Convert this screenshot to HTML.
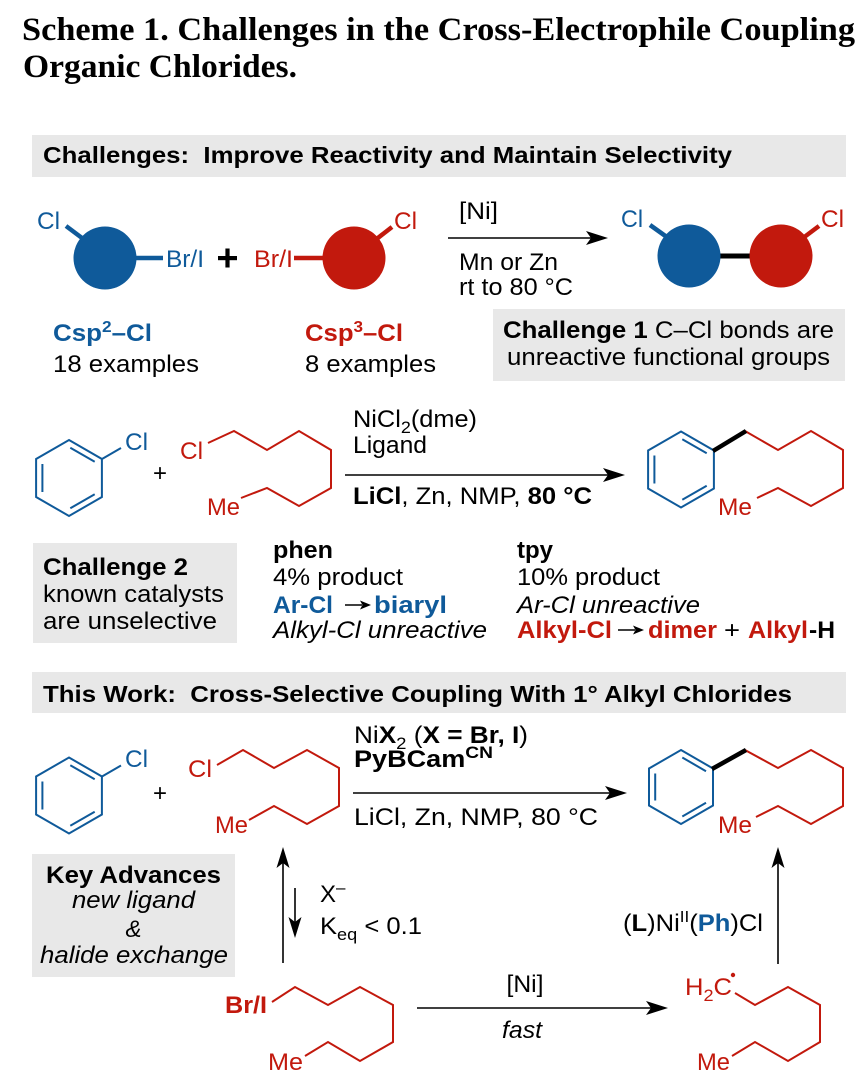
<!DOCTYPE html>
<html>
<head>
<meta charset="utf-8">
<style>
html,body{margin:0;padding:0;background:#fff;}
svg{display:block;}
</style>
</head>
<body>
<svg width="859" height="1088" viewBox="0 0 859 1088" xmlns="http://www.w3.org/2000/svg" font-family="'Liberation Sans', Arial, Helvetica, sans-serif" font-size="24">
<!-- Title -->
<g font-family="'Liberation Serif', 'Times New Roman', serif" font-weight="bold" font-size="33" fill="#000">
<text x="22" y="40" textLength="833" lengthAdjust="spacingAndGlyphs">Scheme 1. Challenges in the Cross-Electrophile Coupling</text>
<text x="23" y="77" textLength="274" lengthAdjust="spacingAndGlyphs">Organic Chlorides.</text>
</g>

<!-- Gray boxes -->
<g fill="#e8e8e8">
<rect x="32" y="135" width="814" height="42"/>
<rect x="493" y="309" width="352" height="72"/>
<rect x="33" y="543" width="204" height="100"/>
<rect x="32" y="672" width="814" height="41"/>
<rect x="32" y="854" width="203" height="123"/>
</g>

<!-- Headers -->
<text x="43" y="163" font-weight="bold" font-size="23" textLength="689" lengthAdjust="spacingAndGlyphs">Challenges:&#160; Improve Reactivity and Maintain Selectivity</text>
<text x="43" y="702" font-weight="bold" font-size="23" textLength="749" lengthAdjust="spacingAndGlyphs">This Work:&#160; Cross-Selective Coupling With 1° Alkyl Chlorides</text>

<!-- ===== Section 1 ===== -->
<g stroke-width="4.5" stroke-linecap="butt">
<line x1="66" y1="226" x2="86" y2="241" stroke="#0f5a9a"/>
<line x1="130" y1="258" x2="163" y2="258" stroke="#0f5a9a"/>
<line x1="294" y1="258" x2="330" y2="258" stroke="#c2190d"/>
<line x1="374" y1="241" x2="392" y2="227" stroke="#c2190d"/>
<line x1="650" y1="225" x2="671" y2="240" stroke="#0f5a9a"/>
<line x1="712" y1="256" x2="758" y2="256" stroke="#000" stroke-width="5"/>
<line x1="799" y1="241" x2="819" y2="226" stroke="#c2190d"/>
</g>
<circle cx="105" cy="258" r="31.5" fill="#0f5a9a"/>
<circle cx="354" cy="258" r="31.5" fill="#c2190d"/>
<circle cx="689" cy="256" r="31.5" fill="#0f5a9a"/>
<circle cx="781" cy="256" r="31.5" fill="#c2190d"/>
<!-- bold plus -->
<rect x="218" y="256" width="19" height="4.2" fill="#000"/>
<rect x="225.4" y="248.5" width="4.2" height="19" fill="#000"/>

<text x="37" y="229" fill="#0f5a9a" textLength="23" lengthAdjust="spacingAndGlyphs">Cl</text>
<text x="166" y="267" fill="#0f5a9a" textLength="38" lengthAdjust="spacingAndGlyphs">Br/I</text>
<text x="254" y="267" fill="#c2190d" textLength="39" lengthAdjust="spacingAndGlyphs">Br/I</text>
<text x="394" y="229" fill="#c2190d" textLength="23" lengthAdjust="spacingAndGlyphs">Cl</text>
<text x="621" y="227" fill="#0f5a9a" textLength="22" lengthAdjust="spacingAndGlyphs">Cl</text>
<text x="821" y="227" fill="#c2190d" textLength="23" lengthAdjust="spacingAndGlyphs">Cl</text>

<text x="53" y="341" fill="#0f5a9a" font-weight="bold" textLength="99" lengthAdjust="spacingAndGlyphs">Csp<tspan dy="-9" font-size="16">2</tspan><tspan dy="9">–Cl</tspan></text>
<text x="53" y="372" textLength="146" lengthAdjust="spacingAndGlyphs">18 examples</text>
<text x="305" y="341" fill="#c2190d" font-weight="bold" textLength="98" lengthAdjust="spacingAndGlyphs">Csp<tspan dy="-9" font-size="16">3</tspan><tspan dy="9">–Cl</tspan></text>
<text x="305" y="372" textLength="131" lengthAdjust="spacingAndGlyphs">8 examples</text>

<text x="459" y="219" textLength="39" lengthAdjust="spacingAndGlyphs">[Ni]</text>
<line x1="448" y1="238" x2="592" y2="238" stroke="#000" stroke-width="1.6"/>
<polygon points="608,238 586,231 591,238 586,245" fill="#000"/>
<text x="459" y="270" textLength="99" lengthAdjust="spacingAndGlyphs">Mn or Zn</text>
<text x="459" y="295" textLength="114" lengthAdjust="spacingAndGlyphs">rt to 80 °C</text>

<text x="503" y="338" textLength="331" lengthAdjust="spacingAndGlyphs"><tspan font-weight="bold">Challenge 1</tspan> C–Cl bonds are</text>
<text x="507" y="365" textLength="323" lengthAdjust="spacingAndGlyphs">unreactive functional groups</text>

<!-- ===== Section 2 ===== -->
<g fill="none" stroke="#0f5a9a" stroke-width="2">
<g transform="translate(69,478)">
<polygon points="0,-38 32.9,-19 32.9,19 0,38 -32.9,19 -32.9,-19"/>
<line x1="-26.6" y1="-14" x2="-26.6" y2="14"/>
<line x1="1.3" y1="-30.3" x2="25.7" y2="-16.3"/>
<line x1="25.7" y1="16.3" x2="1.3" y2="30.3"/>
</g>
<line x1="102" y1="459" x2="121" y2="448"/>
<g transform="translate(681,469.5)">
<polygon points="0,-38 32.9,-19 32.9,19 0,38 -32.9,19 -32.9,-19"/>
<line x1="-26.6" y1="-14" x2="-26.6" y2="14"/>
<line x1="1.3" y1="-30.3" x2="25.7" y2="-16.3"/>
<line x1="25.7" y1="16.3" x2="1.3" y2="30.3"/>
</g>
</g>
<g fill="none" stroke="#c2190d" stroke-width="2" stroke-linejoin="miter">
<polyline points="208,443 234,431 267,450 299,431 331,450 331,488 299,506 267,488 241,498"/>
<polyline points="745,431 778,450 811,431 843,450 843,488 811,506 778,488 757,498"/>
</g>
<line x1="713" y1="451" x2="746" y2="431" stroke="#000" stroke-width="4.5"/>

<text x="125" y="450" fill="#0f5a9a" textLength="23" lengthAdjust="spacingAndGlyphs">Cl</text>
<text x="153" y="481" textLength="14" lengthAdjust="spacingAndGlyphs">+</text>
<text x="180" y="459" fill="#c2190d" textLength="23" lengthAdjust="spacingAndGlyphs">Cl</text>
<text x="207" y="515" fill="#c2190d" textLength="33" lengthAdjust="spacingAndGlyphs">Me</text>
<text x="718" y="515" fill="#c2190d" textLength="34" lengthAdjust="spacingAndGlyphs">Me</text>

<text x="353" y="427" textLength="124" lengthAdjust="spacingAndGlyphs">NiCl<tspan dy="6" font-size="17">2</tspan><tspan dy="-6">(dme)</tspan></text>
<text x="353" y="453" textLength="74" lengthAdjust="spacingAndGlyphs">Ligand</text>
<line x1="345" y1="475" x2="609" y2="475" stroke="#000" stroke-width="1.6"/>
<polygon points="625,475 603,468 608,475 603,482" fill="#000"/>
<text x="353" y="504" textLength="239" lengthAdjust="spacingAndGlyphs"><tspan font-weight="bold">LiCl</tspan>, Zn, NMP, <tspan font-weight="bold">80 °C</tspan></text>

<text x="43" y="575" font-weight="bold" textLength="145" lengthAdjust="spacingAndGlyphs">Challenge 2</text>
<text x="43" y="602" textLength="181" lengthAdjust="spacingAndGlyphs">known catalysts</text>
<text x="43" y="629" textLength="174" lengthAdjust="spacingAndGlyphs">are unselective</text>

<text x="273" y="558" font-weight="bold" textLength="60" lengthAdjust="spacingAndGlyphs">phen</text>
<text x="273" y="585" textLength="130" lengthAdjust="spacingAndGlyphs">4% product</text>
<text x="273" y="613" fill="#0f5a9a" font-weight="bold" textLength="60" lengthAdjust="spacingAndGlyphs">Ar-Cl</text>
<line x1="345" y1="605" x2="362" y2="605" stroke="#000" stroke-width="1.6"/>
<polygon points="371,605 360,600.5 362.5,605 360,609.5" fill="#000"/>
<text x="374" y="613" fill="#0f5a9a" font-weight="bold" textLength="73" lengthAdjust="spacingAndGlyphs">biaryl</text>
<text x="273" y="638" font-style="italic" textLength="214" lengthAdjust="spacingAndGlyphs">Alkyl-Cl unreactive</text>

<text x="517" y="558" font-weight="bold" textLength="36" lengthAdjust="spacingAndGlyphs">tpy</text>
<text x="517" y="585" textLength="143" lengthAdjust="spacingAndGlyphs">10% product</text>
<text x="517" y="613" font-style="italic" textLength="183" lengthAdjust="spacingAndGlyphs">Ar-Cl unreactive</text>
<text x="517" y="638" fill="#c2190d" font-weight="bold" textLength="95" lengthAdjust="spacingAndGlyphs">Alkyl-Cl</text>
<line x1="618" y1="630" x2="635" y2="630" stroke="#000" stroke-width="1.6"/>
<polygon points="644,630 633,625.5 635.5,630 633,634.5" fill="#000"/>
<text x="648" y="638" fill="#c2190d" font-weight="bold" textLength="69" lengthAdjust="spacingAndGlyphs">dimer</text>
<text x="724" y="638" textLength="16" lengthAdjust="spacingAndGlyphs">+</text>
<text x="748" y="638" fill="#c2190d" font-weight="bold" textLength="60" lengthAdjust="spacingAndGlyphs">Alkyl</text>
<text x="809" y="638" font-weight="bold" textLength="26" lengthAdjust="spacingAndGlyphs">-H</text>

<!-- ===== Section 3 ===== -->
<g fill="none" stroke="#0f5a9a" stroke-width="2">
<g transform="translate(69,795.5)">
<polygon points="0,-38 32.9,-19 32.9,19 0,38 -32.9,19 -32.9,-19"/>
<line x1="-26.6" y1="-14" x2="-26.6" y2="14"/>
<line x1="1.3" y1="-30.3" x2="25.7" y2="-16.3"/>
<line x1="25.7" y1="16.3" x2="1.3" y2="30.3"/>
</g>
<line x1="102" y1="776.5" x2="121" y2="765.5"/>
<g transform="translate(681,787)">
<polygon points="0,-37 32,-18.5 32,18.5 0,37 -32,18.5 -32,-18.5"/>
<line x1="-25.8" y1="-13.5" x2="-25.8" y2="13.5"/>
<line x1="1.3" y1="-29.5" x2="25" y2="-15.8"/>
<line x1="25" y1="15.8" x2="1.3" y2="29.5"/>
</g>
</g>
<g fill="none" stroke="#c2190d" stroke-width="2">
<polyline points="217,765 243,750 274,768 307,750 339,768 339,806 307,824 274,806 249,820"/>
<polyline points="745,750 778,768 811,750 843,768 843,806 811,824 778,806 756,817"/>
</g>
<line x1="712" y1="769" x2="746" y2="750" stroke="#000" stroke-width="4.5"/>

<text x="125" y="767" fill="#0f5a9a" textLength="23" lengthAdjust="spacingAndGlyphs">Cl</text>
<text x="153" y="801" textLength="14" lengthAdjust="spacingAndGlyphs">+</text>
<text x="188" y="777" fill="#c2190d" textLength="24" lengthAdjust="spacingAndGlyphs">Cl</text>
<text x="215" y="833" fill="#c2190d" textLength="33" lengthAdjust="spacingAndGlyphs">Me</text>
<text x="718" y="833" fill="#c2190d" textLength="34" lengthAdjust="spacingAndGlyphs">Me</text>

<text x="354" y="743" textLength="174" lengthAdjust="spacingAndGlyphs">Ni<tspan font-weight="bold">X</tspan><tspan dy="6" font-size="17">2</tspan><tspan dy="-6"> (</tspan><tspan font-weight="bold">X = Br, I</tspan>)</text>
<text x="354" y="767" font-weight="bold" textLength="139" lengthAdjust="spacingAndGlyphs">PyBCam<tspan dy="-9" font-size="17">CN</tspan></text>
<line x1="353" y1="793" x2="611" y2="793" stroke="#000" stroke-width="1.6"/>
<polygon points="627,793 605,786 610,793 605,800" fill="#000"/>
<text x="354" y="825" textLength="244" lengthAdjust="spacingAndGlyphs">LiCl, Zn, NMP, 80 °C</text>

<!-- ===== Bottom ===== -->
<text x="133.5" y="883" text-anchor="middle" font-weight="bold" textLength="175" lengthAdjust="spacingAndGlyphs">Key Advances</text>
<text x="133.5" y="908" text-anchor="middle" font-style="italic" textLength="123" lengthAdjust="spacingAndGlyphs">new ligand</text>
<text x="133.5" y="937" text-anchor="middle" font-style="italic">&amp;</text>
<text x="134" y="963" text-anchor="middle" font-style="italic" textLength="188" lengthAdjust="spacingAndGlyphs">halide exchange</text>

<!-- left equilibrium arrows -->
<line x1="283" y1="963" x2="283" y2="862" stroke="#000" stroke-width="1.6"/>
<polygon points="283,847 276.5,868 283,863 289.5,868" fill="#000"/>
<line x1="295" y1="888" x2="295" y2="923" stroke="#000" stroke-width="1.6"/>
<polygon points="295,938 288.5,917 295,922 301.5,917" fill="#000"/>
<text x="320" y="902">X<tspan dy="-9" font-size="17">–</tspan></text>
<text x="320" y="934" textLength="102" lengthAdjust="spacingAndGlyphs">K<tspan dy="6" font-size="17">eq</tspan><tspan dy="-6"> &lt; 0.1</tspan></text>

<!-- bottom chains -->
<g fill="none" stroke="#c2190d" stroke-width="2">
<polyline points="272,1002 295,987 328,1005 360,987 393,1005 393,1042 360,1061 328,1042 305,1056"/>
<polyline points="735,993 755,1005 788,987 820,1005 820,1042 788,1061 755,1042 732,1056"/>
</g>
<text x="225" y="1013" fill="#c2190d" font-weight="bold" textLength="42" lengthAdjust="spacingAndGlyphs">Br/I</text>
<text x="268" y="1070" fill="#c2190d" textLength="35" lengthAdjust="spacingAndGlyphs">Me</text>

<line x1="417" y1="1008" x2="652" y2="1008" stroke="#000" stroke-width="1.6"/>
<polygon points="668,1008 646,1001 651,1008 646,1015" fill="#000"/>
<text x="525" y="992" text-anchor="middle" textLength="37" lengthAdjust="spacingAndGlyphs">[Ni]</text>
<text x="522" y="1038" text-anchor="middle" font-style="italic" textLength="40" lengthAdjust="spacingAndGlyphs">fast</text>

<text x="685" y="995" fill="#c2190d" textLength="47" lengthAdjust="spacingAndGlyphs">H<tspan dy="6" font-size="17">2</tspan><tspan dy="-6">C</tspan></text>
<circle cx="733" cy="975" r="2.2" fill="#c2190d"/>
<text x="697" y="1070" fill="#c2190d" textLength="33" lengthAdjust="spacingAndGlyphs">Me</text>

<line x1="778" y1="964" x2="778" y2="862" stroke="#000" stroke-width="1.6"/>
<polygon points="778,847 771.5,868 778,863 784.5,868" fill="#000"/>
<text x="623" y="931" textLength="140" lengthAdjust="spacingAndGlyphs">(<tspan font-weight="bold">L</tspan>)Ni<tspan dy="-9" font-size="16">II</tspan><tspan dy="9">(</tspan><tspan font-weight="bold" fill="#0f5a9a">Ph</tspan>)Cl</text>
</svg>
</body>
</html>
